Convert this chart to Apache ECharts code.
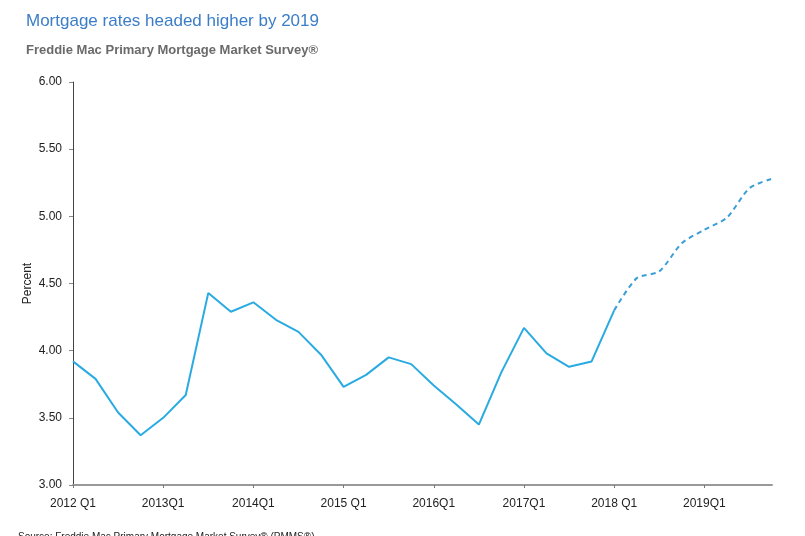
<!DOCTYPE html>
<html>
<head>
<meta charset="utf-8">
<script src="https://cdn.jsdelivr.net/npm/echarts@6/dist/echarts.min.js"></script>
<style>
html,body{margin:0;padding:0;background:#fff;}
#chart{width:805px;height:536px;}
</style>
</head>
<body>
<div id="chart"></div>
<script>
var quarters = [];
var years = [2012, 2013, 2014, 2015, 2016, 2017, 2018, 2019];
var yearLabels = ['2012 Q1', '2013Q1', '2014Q1', '2015 Q1', '2016Q1', '2017Q1', '2018 Q1', '2019Q1'];
years.forEach(function (y) { for (var q = 1; q <= 4; q++) quarters.push(y + 'Q' + q); });

var actualRates = [3.92, 3.79, 3.54, 3.37, 3.50, 3.67, 4.43, 4.29, 4.36, 4.23, 4.14, 3.97,
                   3.73, 3.82, 3.95, 3.90, 3.74, 3.60, 3.45, 3.84, 4.17, 3.98, 3.88, 3.92, 4.30];
var forecastRates = [4.30, 4.54, 4.59, 4.80, 4.90, 4.99, 5.21, 5.28];
var forecastStart = 24;

var yTicks = [3.00, 3.50, 4.00, 4.50, 5.00, 5.50, 6.00];

var actualData = actualRates.slice();
var forecastData = [];
for (var i = 0; i < quarters.length; i++) {
  forecastData.push(i >= forecastStart ? forecastRates[i - forecastStart] : '-');
}

var font = '"Liberation Sans", Arial, Helvetica, sans-serif';
var chart = echarts.init(document.getElementById('chart'));
chart.setOption({
  animation: false,
  backgroundColor: '#ffffff',
  title: [
    { text: 'Mortgage rates headed higher by 2019', left: 21, top: 8,
      textStyle: { fontFamily: font, fontSize: 17, fontWeight: 'normal', color: '#3B7DC8' } },
    { text: 'Freddie Mac Primary Mortgage Market Survey®', left: 21, top: 39,
      textStyle: { fontFamily: font, fontSize: 13, fontWeight: 'bold', color: '#6a6a6a' } },
    { text: 'Source: Freddie Mac Primary Mortgage Market Survey® (PMMS®)', left: 13, top: 527,
      textStyle: { fontFamily: font, fontSize: 10, fontWeight: 'normal', color: '#222' } }
  ],
  grid: { left: 73, right: 33, top: 82, bottom: 51, containLabel: false },
  xAxis: {
    type: 'category',
    data: quarters,
    boundaryGap: false,
    axisLine: { lineStyle: { color: '#999', width: 2 } },
    axisTick: { interval: 3, length: 3, lineStyle: { color: '#777' } },
    axisLabel: {
      interval: 3, margin: 13, fontFamily: font, fontSize: 12, color: '#222',
      formatter: function (v) { var idx = years.indexOf(parseInt(v.slice(0, 4), 10)); return idx >= 0 ? yearLabels[idx] : v; }
    },
    splitLine: { show: false }
  },
  yAxis: {
    type: 'value',
    min: yTicks[0], max: yTicks[yTicks.length - 1], interval: 0.5,
    name: 'Percent', nameLocation: 'middle', nameGap: 39, nameRotate: 90,
    nameMoveOverlap: false,
    nameTextStyle: { fontFamily: font, fontSize: 12, color: '#222' },
    axisLine: { show: true, lineStyle: { color: '#444', width: 1 } },
    axisTick: { show: true, length: 4, lineStyle: { color: '#888' } },
    axisLabel: { fontFamily: font, fontSize: 12, color: '#222', margin: 11,
      formatter: function (v) { return v.toFixed(2); } },
    splitLine: { show: false }
  },
  series: [
    { name: 'Actual', type: 'line', data: actualData, symbol: 'none',
      lineStyle: { color: '#29ABE2', width: 2 } },
    { name: 'Forecast', type: 'line', data: forecastData, symbol: 'none', smooth: 0.25,
      lineStyle: { color: '#3A9FD6', width: 2, type: [5, 4] } }
  ]
});
</script>
</body>
</html>
